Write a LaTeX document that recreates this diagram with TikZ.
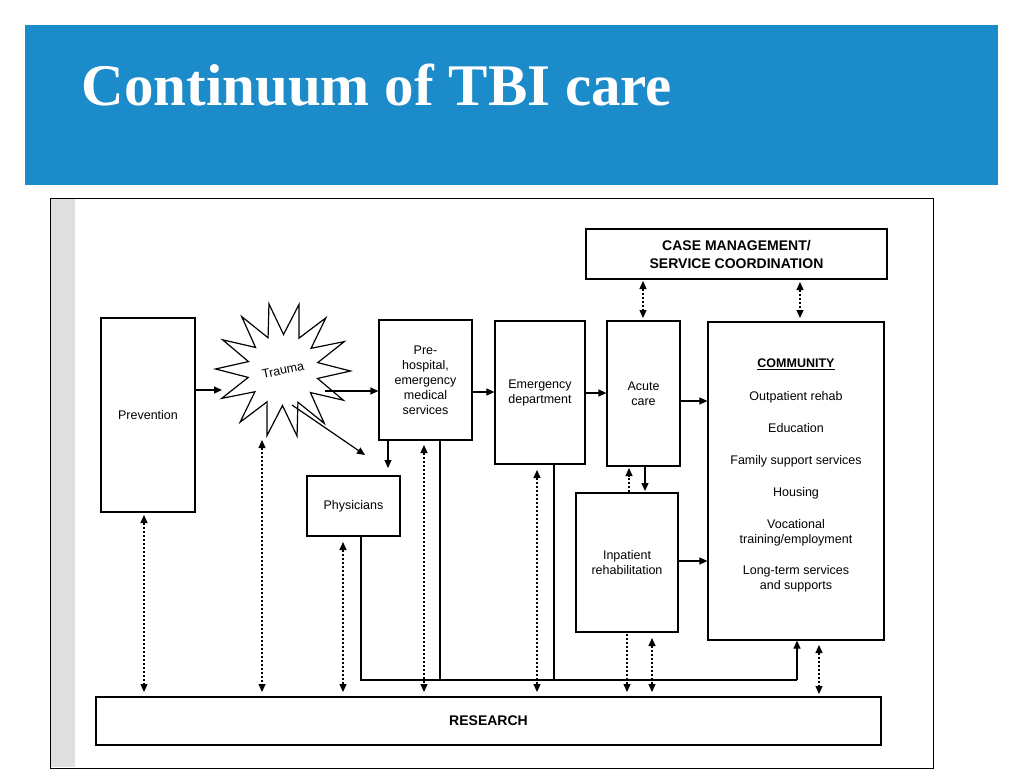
\documentclass[tikz,border=0pt]{standalone}
\usepackage{fontspec}
\setmainfont{Liberation Serif}
\newfontfamily\diagfont{Liberation Sans}
\usetikzlibrary{shapes.geometric,arrows.meta}
\definecolor{band}{HTML}{1B8BC9}
\begin{document}
\begin{tikzpicture}[x=1pt,y=-1pt,
  box/.style={draw,line width=1.2pt,inner sep=2pt,font=\diagfont\fontsize{12.5}{15}\selectfont,align=center},
  arr/.style={line width=1.2pt,-{Triangle[length=8pt,width=7pt]}},
  dots/.style={line width=1.2pt,dash pattern=on 2pt off 2pt,{Triangle[length=8pt,width=7pt]}-{Triangle[length=8pt,width=7pt]}},
  dot1/.style={line width=1.2pt,dash pattern=on 2pt off 2pt,-{Triangle[length=8pt,width=7pt]}},
  ln/.style={line width=1.2pt}]
\useasboundingbox (0,0) rectangle (1024,768);
\fill[white] (0,0) rectangle (1024,768);
\fill[band] (25,25) rectangle (998,185);
\node[anchor=west,text=white,font=\bfseries\fontsize{59}{64}\selectfont] (title) at (78,85) {Continuum of TBI care};
\draw[line width=0.8pt,fill=white] (50,198) rectangle (933,768);
\fill[gray!25] (51,199) rectangle (75,767);
\fill[white] (75,199) rectangle (932,767);
% boxes
\node[box,minimum width=94pt,minimum height=194pt] (prev) at (148,415) {Prevention};
\node[draw,line width=1.2pt,star,star points=14,star point ratio=1.9,minimum size=135pt,inner sep=0pt,rotate=12,font=\diagfont\fontsize{12.5}{14}\selectfont] (trauma) at (283,370) {Trauma};
\node[box,minimum width=93pt,minimum height=120pt] (pre) at (425.5,380) {Pre-\\hospital,\\emergency\\medical\\services};
\node[box,minimum width=90pt,minimum height=143pt] (ed) at (540,392.5) {Emergency\\department};
\node[box,minimum width=73pt,minimum height=145pt] (acute) at (643.5,393.5) {Acute\\care};
\node[box,minimum width=301pt,minimum height=50pt,font=\diagfont\bfseries\fontsize{14}{18}\selectfont] (case) at (736.5,254) {CASE MANAGEMENT/\\SERVICE COORDINATION};
\node[draw,line width=1.2pt,minimum width=176pt,minimum height=318pt] (comm) at (796,481) {};
\node[font=\diagfont\fontsize{12.5}{15}\selectfont,align=center,anchor=north] (commtext) at (796,355)
 {\textbf{\underline{COMMUNITY}}\\[18pt] Outpatient rehab\\[17pt] Education\\[17pt] Family support services\\[17pt] Housing\\[17pt] Vocational\\training/employment\\[16pt] Long-term services\\and supports};
\node[box,minimum width=93pt,minimum height=60pt] (phys) at (353.5,506) {Physicians};
\node[box,minimum width=102pt,minimum height=139pt] (inp) at (627,562.5) {Inpatient\\rehabilitation};
\node[box,minimum width=785pt,minimum height=48pt,font=\diagfont\bfseries\fontsize{14}{16}\selectfont] (res) at (488.5,721) {RESEARCH};
% coordinates
\coordinate (c1) at (361,680); \coordinate (c2) at (797,680);
\coordinate (t1) at (325,391); \coordinate (t2) at (292,405); \coordinate (t3) at (365,455);
% solid arrows
\draw[arr] (prev.east |- 0,390) -- (222,390);
\draw[arr] (t1) -- (pre.west |- t1);
\draw[arr] (t2) -- (t3);
\draw[arr] (388,440) -- (388,468);
\draw[arr] (pre.east |- 0,392) -- (ed.west |- 0,392);
\draw[arr] (ed.east |- 0,393) -- (acute.west |- 0,393);
\draw[arr] (acute.east |- 0,401) -- (comm.west |- 0,401);
\draw[arr] (645,466) -- (645,491);
\draw[arr] (inp.east |- 0,561) -- (comm.west |- 0,561);
\draw[dot1] (629,492) -- (629,468);
% lines to community
\draw[ln] (phys.south -| c1) -- (c1) -- (c2);
\draw[arr] (c2) -- (comm.south -| c2);
\draw[ln] (440,440) -- (440,680);
\draw[ln] (554,464) -- (554,680);
% dotted to research
\draw[dots] (144,515) -- (144,692);
\draw[dots] (262,440) -- (262,692);
\draw[dots] (343,542) -- (343,692);
\draw[dots] (424,445) -- (424,692);
\draw[dots] (537,470) -- (537,692);
\draw[dot1] (627,634) -- (627,692);
\draw[dots] (652,638) -- (652,692);
\draw[dots] (819,645) -- (819,694);
\draw[dots] (643,281) -- (643,318);
\draw[dots] (800,282) -- (800,318);
\end{tikzpicture}
\end{document}
